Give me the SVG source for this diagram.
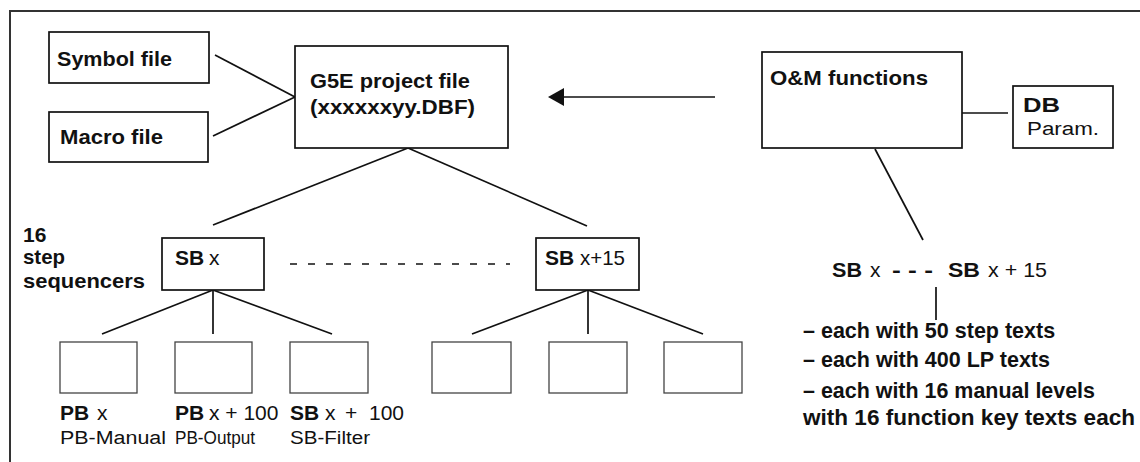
<svg xmlns="http://www.w3.org/2000/svg" width="1140" height="462" viewBox="0 0 1140 462">
  <style>
    .box { fill: #fff; stroke: #111; stroke-width: 1.7; }
    .lbox { fill: #fff; stroke: #444; stroke-width: 1.3; }
    .ln { stroke: #111; stroke-width: 1.7; fill: none; }
    text { font-family: "Liberation Sans", Arial, sans-serif; fill: #111; }
    .t { font-size: 21px; font-weight: bold; }
    .n { font-size: 21px; font-weight: normal; }
    .s { font-size: 18px; font-weight: normal; }
    .b { font-size: 21.5px; font-weight: bold; }
  </style>

  <rect width="1140" height="462" fill="#fff"/>
  <!-- page frame -->
  <path d="M10,462 V11 H1140" fill="none" stroke="#333" stroke-width="2"/>

  <g id="connectors">
    <line class="ln" x1="215" y1="55" x2="295" y2="97"/>
    <line class="ln" x1="213" y1="136" x2="295" y2="97"/>
    <line class="ln" x1="562" y1="97" x2="715" y2="97" stroke-width="2"/>
    <polygon points="548,97 564,88 564,106" fill="#111"/>
    <line class="ln" x1="962" y1="113" x2="1008" y2="113"/>
    <line class="ln" x1="875" y1="149" x2="923" y2="240"/>
    <line class="ln" x1="936" y1="287" x2="936" y2="320" stroke-width="1.2"/>
    <line class="ln" x1="408" y1="148" x2="213" y2="225"/>
    <line class="ln" x1="408" y1="148" x2="587" y2="226"/>
    <line class="ln" x1="290" y1="264" x2="510" y2="264" stroke-width="3" stroke-dasharray="7 11"/>
    <line class="ln" x1="213" y1="290" x2="102" y2="334"/>
    <line class="ln" x1="213" y1="290" x2="213" y2="334"/>
    <line class="ln" x1="213" y1="290" x2="332" y2="334"/>
    <line class="ln" x1="588" y1="290" x2="472" y2="334"/>
    <line class="ln" x1="588" y1="290" x2="588" y2="334"/>
    <line class="ln" x1="588" y1="290" x2="703" y2="334"/>
  </g>

  <g id="symbol-file">
    <rect class="box" x="49" y="32" width="160" height="51"/>
    <text class="t" x="57" y="66" textLength="115" lengthAdjust="spacingAndGlyphs">Symbol file</text>
  </g>
  <g id="macro-file">
    <rect class="box" x="49" y="112" width="159" height="50"/>
    <text class="t" x="60" y="144" textLength="103" lengthAdjust="spacingAndGlyphs">Macro file</text>
  </g>
  <g id="project-file">
    <rect class="box" x="295" y="46" width="213" height="102"/>
    <text class="t" x="310" y="88" textLength="160" lengthAdjust="spacingAndGlyphs">G5E project file</text>
    <text class="t" x="310" y="114" textLength="165" lengthAdjust="spacingAndGlyphs">(xxxxxxyy.DBF)</text>
  </g>
  <g id="om-functions">
    <rect class="box" x="762" y="52" width="200" height="96"/>
    <text class="t" x="770" y="85" textLength="158" lengthAdjust="spacingAndGlyphs">O&amp;M functions</text>
  </g>
  <g id="db-param">
    <rect class="box" x="1013" y="86" width="100" height="62"/>
    <text class="t" x="1023" y="112" textLength="37" lengthAdjust="spacingAndGlyphs">DB</text>
    <text class="s" x="1027" y="135" textLength="72" lengthAdjust="spacingAndGlyphs">Param.</text>
  </g>

  <g id="sequencer-count">
    <text class="t" x="23" y="242">16</text>
    <text class="t" x="23" y="264" textLength="42" lengthAdjust="spacingAndGlyphs">step</text>
    <text class="t" x="23" y="288" textLength="122" lengthAdjust="spacingAndGlyphs">sequencers</text>
  </g>

  <g id="sb-x">
    <rect class="box" x="162" y="238" width="102" height="52"/>
    <text class="t" x="175" y="265">SB</text>
    <text class="n" x="209" y="265">x</text>
  </g>
  <g id="sb-x15">
    <rect class="box" x="536" y="238" width="103" height="52"/>
    <text class="t" x="545" y="265">SB</text>
    <text class="n" x="580" y="265" textLength="45" lengthAdjust="spacingAndGlyphs">x+15</text>
  </g>

  <g id="pb-manual">
    <rect class="lbox" x="60" y="342" width="77" height="51"/>
    <text class="t" x="60" y="420">PB</text>
    <text class="n" x="97" y="420">x</text>
    <text class="s" x="60" y="444" textLength="106" lengthAdjust="spacingAndGlyphs">PB-Manual</text>
  </g>
  <g id="pb-output">
    <rect class="lbox" x="175" y="342" width="77" height="51"/>
    <text class="t" x="175" y="420">PB</text>
    <text class="n" x="209" y="420">x + 100</text>
    <text class="s" x="175" y="444" textLength="80" lengthAdjust="spacingAndGlyphs">PB-Output</text>
  </g>
  <g id="sb-filter">
    <rect class="lbox" x="290" y="342" width="78" height="51"/>
    <text class="t" x="290" y="420">SB</text>
    <text class="n" x="325" y="420">x</text>
    <text class="n" x="345" y="420">+</text>
    <text class="n" x="369" y="420">100</text>
    <text class="s" x="290" y="444" textLength="80" lengthAdjust="spacingAndGlyphs">SB-Filter</text>
  </g>
  <g id="pb-manual-15">
    <rect class="lbox" x="432" y="342" width="79" height="51"/>
  </g>
  <g id="pb-output-15">
    <rect class="lbox" x="549" y="342" width="78" height="51"/>
  </g>
  <g id="sb-filter-15">
    <rect class="lbox" x="664" y="342" width="78" height="51"/>
  </g>

  <g id="om-range">
    <text class="t" x="832" y="277" textLength="30" lengthAdjust="spacingAndGlyphs">SB</text>
    <text class="n" x="870" y="277">x</text>
    <text class="t" x="892" y="277" textLength="41" lengthAdjust="spacingAndGlyphs">- - -</text>
    <text class="t" x="948" y="277" textLength="32" lengthAdjust="spacingAndGlyphs">SB</text>
    <text class="n" x="988" y="277" textLength="59" lengthAdjust="spacingAndGlyphs">x + 15</text>
  </g>
  <g id="om-texts">
    <text class="b" x="803" y="338">– each with 50 step texts</text>
    <text class="b" x="803" y="367">– each with 400 LP texts</text>
    <text class="b" x="803" y="398" textLength="292" lengthAdjust="spacingAndGlyphs">– each with 16 manual levels</text>
    <text class="b" x="803" y="425" textLength="332" lengthAdjust="spacingAndGlyphs">with 16 function key texts each</text>
  </g>
</svg>
